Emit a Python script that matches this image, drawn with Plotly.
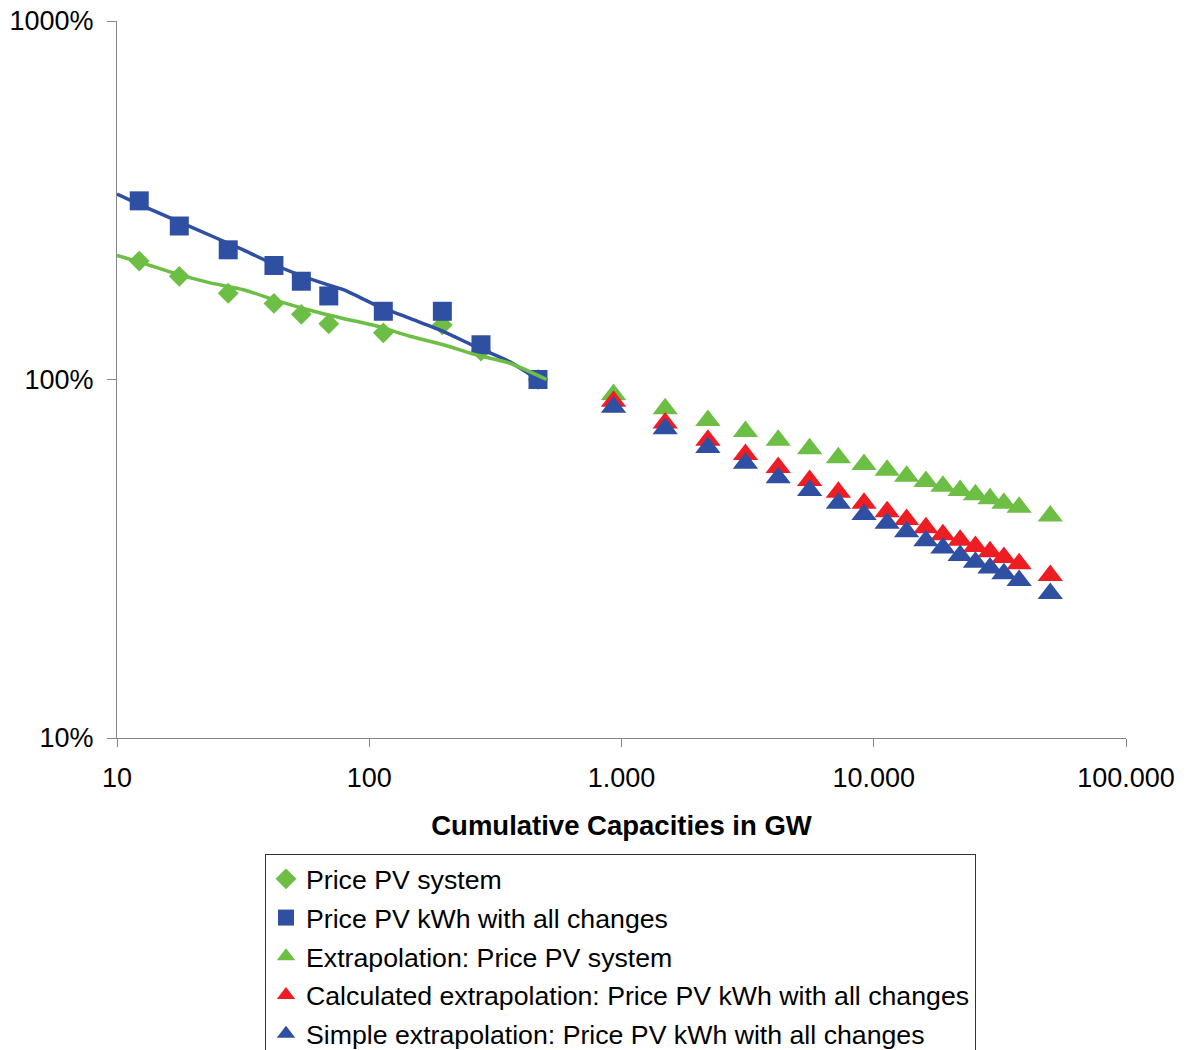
import plotly.graph_objects as go

# ---- data ----
hist_x = [12.25, 17.66, 27.6, 41.9, 53.8, 69.1, 113.7, 194.9, 277.3, 466.6]
price_system = [214, 194, 174, 163, 152, 143, 135, 142, 120, 100]
price_kwh = [315, 268, 230, 208, 188, 171, 155, 155, 125, 100]

trend_kwh_x = [10, 13.3, 19.5, 30.7, 45.6, 61.9, 78.9, 107, 145, 197, 267, 361, 466]
trend_kwh_y = [329, 300, 267, 232, 204, 188, 178, 161, 148, 136, 123, 112, 100]

trend_sys_x = [10, 12.7, 17.2, 23.4, 31.7, 43, 58.2, 78.9, 107, 145, 197, 267, 361, 505]
trend_sys_y = [222, 211, 197, 186, 178, 166, 156, 148, 141, 132, 125, 117, 111, 100]

extra_x = [930, 1490, 2200, 3100, 4180, 5570, 7240, 9150, 11300, 13500,
           16100, 18800, 22000, 25300, 28900, 32800, 37700, 50100]
extra_system = [90.8, 82.9, 76.9, 71.6, 67.7, 64.1, 60.5, 57.9, 55.8, 53.7,
                51.9, 50.4, 49.0, 47.7, 46.5, 45.2, 44.0, 41.6]
extra_calc = [87.0, 75.6, 67.7, 61.8, 56.8, 52.3, 48.5, 45.2, 42.8, 40.7,
              38.6, 36.9, 35.6, 34.2, 33.1, 31.9, 30.6, 28.4]
extra_simple = [83.7, 72.9, 64.6, 58.4, 53.2, 49.0, 45.2, 42.0, 39.7, 37.6,
                35.5, 33.9, 32.3, 30.9, 29.8, 28.7, 27.5, 25.3]

x_tickvals = [10, 100, 1000, 10000, 100000]
x_ticktext = ["10", "100", "1.000", "10.000", "100.000"]
y_tickvals = [10, 100, 1000]
y_ticktext = ["10%", "100%", "1000%"]

names = ["Price PV system", "Price PV kWh with all changes",
         "Extrapolation: Price PV system",
         "Calculated extrapolation: Price PV kWh with all changes",
         "Simple extrapolation: Price PV kWh with all changes"]

GREEN = "#6CBE45"
BLUE = "#2F4FA2"
RED = "#EE1D23"
AXIS = "#868686"
FONT = "Liberation Sans, Arial, sans-serif"

fig = go.Figure()
fig.add_trace(go.Scatter(x=hist_x, y=price_system, mode="markers", name=names[0],
                         legendgroup="g1",
                         marker=dict(symbol="diamond", size=16, color=GREEN)))
fig.add_trace(go.Scatter(x=hist_x, y=price_kwh, mode="markers", name=names[1],
                         legendgroup="g2",
                         marker=dict(symbol="square", size=19, color=BLUE)))
fig.add_trace(go.Scatter(x=trend_kwh_x, y=trend_kwh_y, mode="lines", showlegend=False,
                         line=dict(color=BLUE, width=3.5, shape="spline", smoothing=0.6)))
fig.add_trace(go.Scatter(x=trend_sys_x, y=trend_sys_y, mode="lines", showlegend=False,
                         line=dict(color=GREEN, width=3.5, shape="spline", smoothing=0.6)))
fig.add_trace(go.Scatter(x=extra_x, y=extra_system, mode="markers", name=names[2],
                         legendgroup="g3",
                         marker=dict(symbol="triangle-up", size=22, color=GREEN)))
fig.add_trace(go.Scatter(x=extra_x, y=extra_calc, mode="markers", name=names[3],
                         legendgroup="g4",
                         marker=dict(symbol="triangle-up", size=22, color=RED)))
fig.add_trace(go.Scatter(x=extra_x, y=extra_simple, mode="markers", name=names[4],
                         legendgroup="g5",
                         marker=dict(symbol="triangle-up", size=22, color=BLUE)))

fig.update_layout(
    width=1188, height=1050,
    margin=dict(l=117, r=62, t=21, b=312, autoexpand=False),
    paper_bgcolor="white", plot_bgcolor="white",
    font=dict(family=FONT, color="black", size=26),
    showlegend=True,
    legend=dict(
        x=(265 - 117) / 1009, y=(738 - 854) / 717,
        xanchor="left", yanchor="top",
        bordercolor="#333333", borderwidth=1,
        bgcolor="white",
        font=dict(family=FONT, size=26.7, color="black"),
        traceorder="grouped", tracegroupgap=1,
    ),
    xaxis=dict(
        type="log", range=[1, 5],
        tickvals=x_tickvals, ticktext=x_ticktext,
        showline=True, linecolor=AXIS, linewidth=1,
        ticks="outside", ticklen=8, tickcolor=AXIS, tickwidth=1,
        showgrid=False, zeroline=False,
        tickfont=dict(size=27, color="black"),
        ticklabelstandoff=8,
        title=dict(text="<b>Cumulative Capacities in GW</b>",
                   font=dict(size=27.5, color="black"), standoff=23),
    ),
    yaxis=dict(
        type="log", range=[1, 3],
        tickvals=y_tickvals, ticktext=y_ticktext,
        showline=True, linecolor=AXIS, linewidth=1,
        ticks="outside", ticklen=9, tickcolor=AXIS, tickwidth=1,
        showgrid=False, zeroline=False,
        tickfont=dict(size=27, color="black"),
        ticklabelstandoff=8,
    ),
)

fig.write_html("out.html")
